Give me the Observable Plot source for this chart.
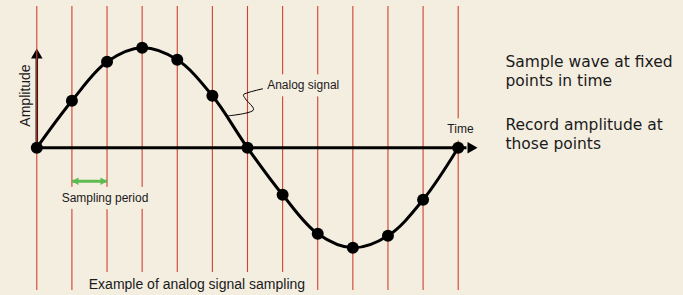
<!DOCTYPE html>
<html>
<head>
<meta charset="utf-8">
<script src="https://cdn.jsdelivr.net/npm/d3@7"></script>
<script src="https://cdn.jsdelivr.net/npm/@observablehq/plot@0.6"></script>
<style>
  html, body { margin: 0; padding: 0; background: #f4eee1; }
  #chart { width: 683px; height: 295px; overflow: hidden; }
</style>
</head>
<body>
<div id="chart"></div>
<script>
// Sample instants (sampling period units) and amplitudes
const times = [0, 1, 2, 3, 4, 5, 6, 7, 8, 9, 10, 11, 12];
const amplitudes = [0, 0.47, 0.86, 1.0, 0.88, 0.52, 0, -0.47, -0.86, -1.0, -0.88, -0.52, 0];

// Hand-drawn leader from the curve to the "Analog signal" label
const leaderT = [5.46, 6.17, 5.94, 5.885, 6.0, 6.43];
const leaderA = [0.32, 0.38, 0.49, 0.53, 0.55, 0.59];

// Axis extents (data units)
const timeAxisEnd = 12.25;
const ampAxisEnd = 0.9;
const axisHeads = [
  {t: 0, a: 0.926, rot: 0},
  {t: 12.36, a: 0, rot: 90}
];

// Sampling period marker
const periodStart = 1, periodEnd = 2, periodLevel = -0.334;
const periodHeads = [
  {t: 1.124, a: -0.334, rot: -90},
  {t: 1.876, a: -0.334, rot: 90}
];

// Labels
const startLabels = [{text: "Analog signal", t: 6.56, a: 0.623}];
const middleLabels = [
  {text: "Time", t: 12.064, a: 0.183},
  {text: "Sampling period", t: 1.942, a: -0.502}
];
const captionText = "Example of analog signal sampling";
const captionPos = {t: 4.56, a: -1.367};
const noteTexts = ["Sample wave at fixed\npoints in time", "Record amplitude at\nthose points"];
const noteT = 13.346;
const noteA = [0.773, 0.148];
const yLabel = {text: "Amplitude", t: -0.31, a: 0.523};

const samples = times.map((t, i) => ({t, a: amplitudes[i]}));
const leader = leaderT.map((t, i) => ({t, a: leaderA[i]}));
const notes = noteTexts.map((text, i) => ({text, t: noteT, a: noteA[i]}));
const boxedTexts = new Set([...startLabels, ...middleLabels].map(d => d.text).concat([captionText]));

const bg = "#f4eee1";
const ink = "#000";
const labelInk = "#1a1a1a";
const arial = "Liberation Sans, Arial, sans-serif";

const chart = Plot.plot({
  width: 683,
  height: 295,
  marginTop: 6,
  marginBottom: 5,
  marginLeft: 0,
  marginRight: 0,
  x: {domain: [0, 12], range: [36.3, 457.7], axis: null},
  y: {domain: [-1, 1], range: [247.3, 47.3], axis: null},
  style: {background: "transparent", overflow: "visible"},
  marks: [
    // vertical amplitude axis (under the red rules)
    Plot.ruleX([0], {y1: 0, y2: ampAxisEnd, stroke: ink, strokeWidth: 2.5}),
    Plot.dot(axisHeads.slice(0, 1), {x: "t", y: "a", symbol: "triangle", r: 4.3, fill: ink, rotate: "rot"}),
    // sampling instants
    Plot.ruleX(times, {stroke: "#d0402f", strokeWidth: 1.1}),
    // time axis
    Plot.ruleY([0], {x1: 0, x2: timeAxisEnd, stroke: ink, strokeWidth: 3}),
    Plot.dot(axisHeads.slice(1), {x: "t", y: "a", symbol: "triangle", r: 4.3, fill: ink, rotate: "rot"}),
    // analog signal
    Plot.line(samples, {x: "t", y: "a", curve: "catmull-rom", stroke: ink, strokeWidth: 3}),
    Plot.dot(samples, {x: "t", y: "a", r: 6, fill: ink}),
    // labels with background halo (interrupt the rules)
    Plot.text(startLabels, {
      x: "t", y: "a", text: "text", textAnchor: "start",
      fontFamily: arial, fontSize: 12, fill: labelInk, stroke: bg, strokeWidth: 9
    }),
    Plot.text(middleLabels, {
      x: "t", y: "a", text: "text", textAnchor: "middle",
      fontFamily: arial, fontSize: 12, fill: labelInk, stroke: bg, strokeWidth: 9
    }),
    Plot.text([captionText], {
      x: captionPos.t, y: captionPos.a, text: d => d,
      fontFamily: arial, fontSize: 14, fill: labelInk, stroke: bg, strokeWidth: 10
    }),
    Plot.text([yLabel], {
      x: "t", y: "a", text: "text", rotate: -90,
      fontFamily: arial, fontSize: 14, fill: labelInk
    }),
    // leader line
    Plot.line(leader, {x: "t", y: "a", curve: "catmull-rom", stroke: ink, strokeWidth: 1}),
    // sampling period arrow
    Plot.link([0], {
      x1: periodStart, x2: periodEnd, y1: periodLevel, y2: periodLevel,
      stroke: "#5dbb4f", strokeWidth: 3
    }),
    Plot.dot(periodHeads, {x: "t", y: "a", symbol: "triangle", r: 2.8, fill: "#5dbb4f", rotate: "rot"}),
    // notes on the right
    Plot.text(notes, {
      x: "t", y: "a", text: "text", textAnchor: "start", lineHeight: 1.25,
      fontFamily: "DejaVu Sans, sans-serif", fontSize: 15.5, fill: labelInk
    })
  ]
});
document.getElementById("chart").appendChild(chart);

// Also put a background-coloured box behind each boxed label (derived from its rendered extent)
chart.querySelectorAll("text").forEach(t => {
  if (!boxedTexts.has(t.textContent)) return;
  const g = t.parentNode;
  const b = t.getBBox();
  const m = t.getCTM(), gm = g.getCTM();
  const tx = m.e - gm.e, ty = m.f - gm.f;
  const pad = 4;
  const rect = document.createElementNS("http://www.w3.org/2000/svg", "rect");
  rect.setAttribute("x", b.x + tx - pad);
  rect.setAttribute("y", b.y + ty - pad);
  rect.setAttribute("width", b.width + 2 * pad);
  rect.setAttribute("height", b.height + 2 * pad);
  rect.setAttribute("fill", bg);
  rect.setAttribute("stroke", "none");
  g.insertBefore(rect, g.firstChild);
});
</script>
</body>
</html>
